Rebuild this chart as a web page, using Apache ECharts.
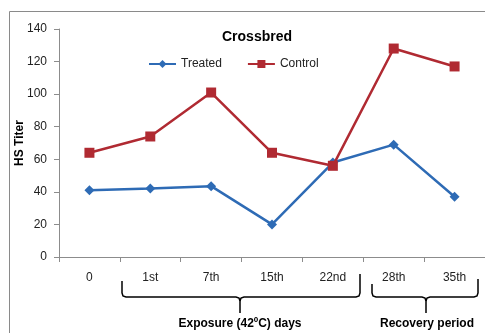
<!DOCTYPE html>
<html lang="en">
  <head>
    <meta charset="UTF-8" />
    <title>Crossbred</title>
    <style>
      html, body { margin: 0; padding: 0; background: #fff; }
      #main { width: 485px; height: 333px; }
    </style>
  </head>
  <body>
    <script src="https://cdn.jsdelivr.net/npm/echarts@6.0.0/dist/echarts.min.js"></script>
    <div id="main"></div>
    <script>
      const days = ['0', '1st', '7th', '15th', '22nd', '28th', '35th']
      const treated = [41, 42, 43.5, 20, 58, 69, 37]
      const control = [64, 74, 101, 64, 56, 128, 117]

      const font = 'Liberation Sans, Arial, sans-serif'
      const chart = echarts.init(document.getElementById('main'))

      // curly brace under the axis labels, as two polylines
      function brace(x1, x2, xm, yTop1, yTop2, yMid, yTip) {
        const r = 4
        const st = { fill: 'none', stroke: '#000', lineWidth: 1.5 }
        return [
          {
            type: 'polyline',
            shape: { points: [[x1, yTop1], [x1, yMid - r], [x1 + 1, yMid - 1], [x1 + r, yMid],
              [xm - r, yMid], [xm - 1, yMid + 1], [xm, yMid + r], [xm, yTip]] },
            style: st
          },
          {
            type: 'polyline',
            shape: { points: [[xm, yMid + r], [xm + 1, yMid + 1], [xm + r, yMid],
              [x2 - r, yMid], [x2 - 1, yMid - 1], [x2, yMid - r], [x2, yTop2]] },
            style: st
          }
        ]
      }

      chart.setOption({
        animation: false,
        title: {
          text: 'Crossbred',
          left: 252,
          top: 25,
          textAlign: 'center',
          textStyle: { fontFamily: font, fontSize: 14, fontWeight: 'bold', color: '#000' }
        },
        legend: {
          data: ['Treated', 'Control'],
          left: 143,
          top: 53,
          itemWidth: 27,
          itemHeight: 10,
          itemGap: 25,
          textStyle: { fontFamily: font, fontSize: 12, color: '#222' }
        },
        grid: { left: 59, right: 0, top: 29, bottom: 76, outerBoundsMode: 'none', containLabel: false },
        xAxis: {
          type: 'category',
          data: days,
          axisLine: { lineStyle: { color: '#8c8c8c', width: 1 } },
          axisTick: { show: true, length: 5, lineStyle: { color: '#8c8c8c' } },
          axisLabel: { fontFamily: font, fontSize: 12, color: '#222', margin: 15 }
        },
        yAxis: {
          type: 'value',
          min: 0,
          max: 140,
          interval: 20,
          name: 'HS Titer',
          nameLocation: 'middle',
          nameGap: 33,
          nameMoveOverlap: false,
          nameTextStyle: { fontFamily: font, fontSize: 12, fontWeight: 'bold', color: '#000' },
          axisLine: { show: true, lineStyle: { color: '#8c8c8c', width: 1 } },
          axisTick: { show: true, length: 5, lineStyle: { color: '#8c8c8c' } },
          axisLabel: { fontFamily: font, fontSize: 12, color: '#222', margin: 12 },
          splitLine: { show: false }
        },
        series: [
          {
            name: 'Treated',
            type: 'line',
            data: treated,
            symbol: 'diamond',
            symbolSize: 10,
            lineStyle: { color: '#2E6BB5', width: 2.5 },
            itemStyle: { color: '#2E6BB5' },
            z: 2
          },
          {
            name: 'Control',
            type: 'line',
            data: control,
            symbol: 'rect',
            symbolSize: 10,
            lineStyle: { color: '#B02A32', width: 2.5 },
            itemStyle: { color: '#B02A32' },
            z: 3
          }
        ],
        graphic: [
          {
            type: 'rect',
            shape: { x: 9.5, y: 11.5, width: 490, height: 340 },
            style: { fill: 'none', stroke: '#8a8a8a', lineWidth: 1 },
            silent: true,
            z: -1
          },
          ...brace(122, 360, 240, 281, 274, 297, 313),
          ...brace(372, 478, 426, 284, 279, 297, 313),
          {
            type: 'text',
            x: 240,
            y: 318,
            style: { text: 'Exposure (42ºC) days', fontFamily: font, fontSize: 12, fontWeight: 'bold', fill: '#000', textAlign: 'center' }
          },
          {
            type: 'text',
            x: 427,
            y: 318,
            style: { text: 'Recovery period', fontFamily: font, fontSize: 12, fontWeight: 'bold', fill: '#000', textAlign: 'center' }
          }
        ]
      })
    </script>
  </body>
</html>
